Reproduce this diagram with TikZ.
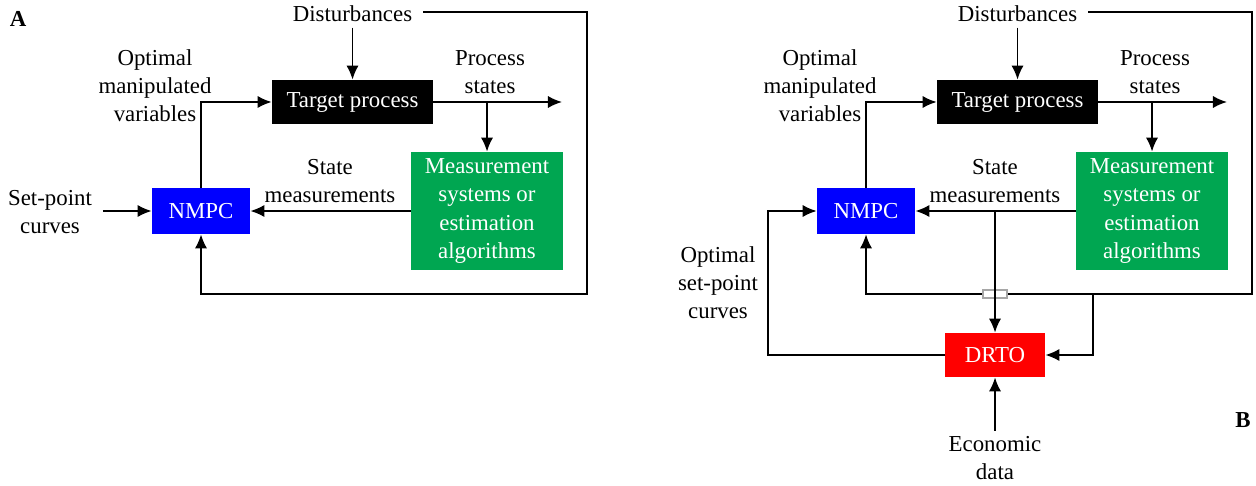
\documentclass[tikz,border=0pt]{standalone}
\usepackage{fontspec}
\setmainfont{Liberation Serif}
\usetikzlibrary{arrows.meta}
\definecolor{boxgreen}{RGB}{0,166,81}
\definecolor{boxblue}{RGB}{0,0,255}
\definecolor{boxred}{RGB}{255,0,0}
\tikzset{
	blk/.style={draw=none, text=white, minimum height=0.88cm, inner sep=0pt, align=center},
	lbl/.style={align=center, inner sep=0pt},
	tag/.style={inner sep=0pt, font=\fontsize{13}{16}\selectfont\bfseries},
	wire/.style={line width=1.1pt},
	arr/.style={wire, -{Latex[length=8pt,width=7pt]}},
}
\begin{document}
\begin{tikzpicture}[x=0.02cm, y=-0.02cm, font=\fontsize{13}{16}\selectfont, line join=miter]
	\useasboundingbox (0,0) rectangle (1256,486);
	% both panels share the NMPC loop
	\foreach \p/\dx in {A/0,B/665}{
		\node[blk, fill=black, minimum width=3.22cm] (tgt\p) at ({\dx+352.5},102) {Target process};
		\node[blk, fill=boxgreen, minimum width=3.04cm, minimum height=2.36cm] (meas\p) at ({\dx+487},211) {Measurement\\systems or\\estimation\\algorithms};
		\node[blk, fill=boxblue, minimum width=1.96cm, minimum height=0.92cm] (nmpc\p) at ({\dx+201},211) {NMPC};
		\node[lbl] (dist\p) at ({\dx+352.5},14) {Disturbances};
		\node[lbl] (ps\p) at ({\dx+490},72) {Process\\states};
		\node[lbl] (sm\p) at ({\dx+330},181) {State\\measurements};
		\node[lbl] (omv\p) at ({\dx+155},86) {Optimal\\manipulated\\variables};
		\coordinate (psend\p) at ({\dx+562},102);
		\coordinate (fb\p) at ({\dx+587},294);
		\draw[arr] ([yshift=-3pt]dist\p.south) -- (tgt\p.north);
		\draw[arr] (tgt\p.east) -- (psend\p);
		\draw[arr] (meas\p.north |- tgt\p.east) -- (meas\p.north);
		\draw[arr] (meas\p.west) -- (nmpc\p.east);
		\draw[arr] (nmpc\p.north) |- (tgt\p.west);
		\draw[arr] ([xshift=6pt,yshift=1pt]dist\p.east) -| (fb\p) -| (nmpc\p.south);
	}
	% panel A
	\node[tag] (tagA) at (18,19) {A};
	\node[lbl] (spc) at (50,212) {Set-point\\curves};
	\draw[arr] ([xshift=6pt]spc.east |- nmpcA.west) -- (nmpcA.west);
	% panel B
	\node[tag] (tagB) at (1243,420) {B};
	\node[blk, fill=boxred, minimum width=2cm] (drto) at (995,355) {DRTO};
	\node[lbl] (econ) at (995,458) {Economic\\data};
	\node[lbl] (ospc) at (718,283) {Optimal\\set-point\\curves};
	\coordinate (brB) at (1093,294);
	\coordinate (ret) at (768,355);
	\node[draw=gray!70, fill=white, line width=0.6pt, minimum width=0.48cm, minimum height=0.16cm, inner sep=0pt] (jump) at (995,294) {};
	\draw[arr] (drto.north |- measB.west) -- (drto.north);
	\draw[arr] (brB) |- (drto.east);
	\draw[arr] (drto.west) -- (ret) |- (nmpcB.west);
	\draw[arr] ([yshift=3pt]econ.north) -- (drto.south);
\end{tikzpicture}
\end{document}
